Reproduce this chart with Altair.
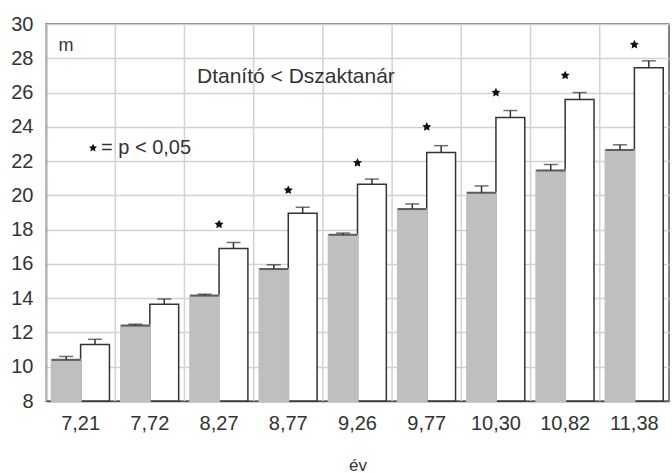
import altair as alt
import pandas as pd

cats = ["7,21", "7,72", "8,27", "8,77", "9,26", "9,77", "10,30", "10,82", "11,38"]
tanito = [10.4, 12.4, 14.15, 15.7, 17.7, 19.2, 20.15, 21.45, 22.65]
tanito_se = [0.2, 0.08, 0.08, 0.25, 0.1, 0.3, 0.4, 0.35, 0.3]
szak = [11.3, 13.65, 16.9, 18.95, 20.65, 22.5, 24.55, 25.6, 27.45]
szak_se = [0.3, 0.3, 0.35, 0.35, 0.3, 0.4, 0.4, 0.4, 0.4]
star_y = [None, None, 18.3, 20.3, 21.9, 24.0, 26.0, 27.0, 28.8]
y_ticks = [8, 10, 12, 14, 16, 18, 20, 22, 24, 26, 28, 30]

rows = []
for c, v, s in zip(cats, tanito, tanito_se):
    rows.append({"cat": c, "grp": "t", "value": v, "se": v + s})
for c, v, s in zip(cats, szak, szak_se):
    rows.append({"cat": c, "grp": "s", "value": v, "se": v + s})
df = pd.DataFrame(rows)
stars = pd.DataFrame([{"cat": c, "y": y} for c, y in zip(cats, star_y) if y is not None])
cat_df = pd.DataFrame({"cat": cats})

W, H = 623, 377
FONT = "Liberation Sans"
TXT = "#333333"
STAR = "M0,-1L0.29,-0.4L0.95,-0.31L0.47,0.15L0.59,0.81L0,0.5L-0.59,0.81L-0.47,0.15L-0.95,-0.31L-0.29,-0.4Z"

xs = alt.Scale(domain=cats, paddingInner=0, paddingOuter=0)
xo = alt.Scale(domain=["t", "s"], paddingInner=0, paddingOuter=0.2)
ys = alt.Scale(domain=[8, 30], nice=False, zero=False)

AX_X = alt.Axis(title="év", labelAngle=0, ticks=False, labelFontSize=20, labelFont=FONT,
                labelColor=TXT, labelPadding=12, titleFontSize=17, titleFont=FONT,
                titleColor=TXT, titleFontWeight="normal", titlePadding=24, bandPosition=0.5,
                labelOverlap=False, domainColor="#555555", domainWidth=1.5, grid=False)
AX_Y = alt.Axis(title=None, values=y_ticks, ticks=False, labelFontSize=20, labelFont=FONT,
                labelColor=TXT, labelPadding=13, labelOverlap=False,
                domainColor="#555555", domainWidth=1.5,
                grid=True, gridColor="#d2d2d2", gridWidth=1.5)

X = alt.X("cat:N", scale=xs, sort=cats, axis=AX_X)
Y = alt.Y("value:Q", scale=ys, axis=AX_Y)
XO = alt.XOffset("grp:N", scale=xo, sort=["t", "s"])

base = alt.Chart(df)

vgrid = alt.Chart(cat_df).mark_rule(color="#d2d2d2", strokeWidth=1.5).encode(
    x=alt.X("cat:N", scale=xs, sort=cats, bandPosition=0, axis=AX_X),
    y=alt.value(0), y2=alt.value(H))

white = base.transform_filter("datum.grp == 's'").mark_bar(
    fill="white", stroke="#333333", strokeWidth=1.5).encode(x=X, xOffset=XO, y=Y, y2=alt.datum(8))
gray = base.transform_filter("datum.grp == 't'").mark_bar(
    fill="#bfbfbf", stroke="#bfbfbf", strokeWidth=2).encode(x=X, xOffset=XO, y=Y, y2=alt.datum(8))
topline = base.transform_filter("datum.grp == 't'").mark_tick(
    color="#333333", thickness=2, size=29).encode(x=X, xOffset=XO, y=Y)
err = base.mark_rule(color="#333333", strokeWidth=1.5).encode(
    x=X, xOffset=XO, y=Y, y2="se:Q")
cap = base.mark_tick(color="#333333", thickness=1.5, size=14).encode(
    x=X, xOffset=XO, y=alt.Y("se:Q", scale=ys, axis=AX_Y))
star_pts = alt.Chart(stars).mark_point(shape=STAR, filled=True, color="#111111", size=90, opacity=1).encode(
    x=X, y=alt.Y("y:Q", scale=ys, axis=AX_Y))

ann = pd.DataFrame({"a": [0]})
m_txt = alt.Chart(ann).mark_text(text="m", font=FONT, fontSize=18, color=TXT, align="center",
                                 baseline="middle").encode(x=alt.value(20), y=alt.value(22))
head = alt.Chart(ann).mark_text(text="Dtanító < Dszaktanár", font=FONT, fontSize=21, color=TXT,
                                align="left", baseline="middle").encode(x=alt.value(151), y=alt.value(53))
leg_star = alt.Chart(ann).mark_point(shape=STAR, filled=True, color="#111111", size=70, opacity=1).encode(
    x=alt.value(47), y=alt.value(124))
leg_txt = alt.Chart(ann).mark_text(text="= p < 0,05", font=FONT, fontSize=20, color=TXT,
                                   align="left", baseline="middle").encode(x=alt.value(55), y=alt.value(124))

chart = alt.layer(vgrid, white, gray, topline, err, cap, star_pts, m_txt, head, leg_star, leg_txt).properties(
    width=W, height=H,
    autosize=alt.AutoSizeParams(type="none"),
    padding={"left": 46, "top": 24, "right": 3, "bottom": 72},
    background="white",
).configure_view(stroke="#555555", strokeWidth=1.5)

chart.save("out.html", embed_options={"renderer": "svg", "actions": False})
